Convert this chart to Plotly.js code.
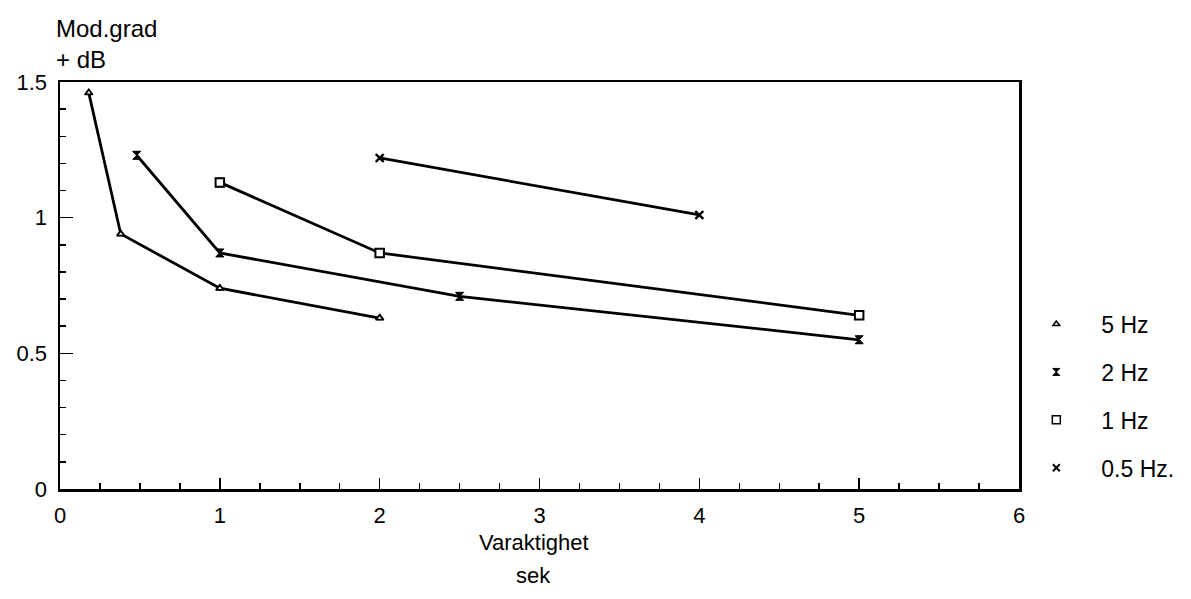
<!DOCTYPE html>
<html>
<head>
<meta charset="utf-8">
<script src="https://cdn.plot.ly/plotly-3.0.1.min.js"></script>
<style>html,body{margin:0;padding:0;background:#fff;}#chart{width:1191px;height:599px;}</style>
</head>
<body>
<div id="chart"></div>
<script>
// Data
const seriesNames = ["5 Hz", "2 Hz", "1 Hz", "0.5 Hz."];
const x5Hz = [0.18, 0.38, 1.0, 2.0];
const y5Hz = [1.46, 0.94, 0.74, 0.63];
const x2Hz = [0.48, 1.0, 2.5, 5.0];
const y2Hz = [1.23, 0.87, 0.71, 0.55];
const x1Hz = [1.0, 2.0, 5.0];
const y1Hz = [1.13, 0.87, 0.64];
const x05Hz = [2.0, 4.0];
const y05Hz = [1.22, 1.01];
const xTicks = [0, 1, 2, 3, 4, 5, 6];
const yTicks = [0, 0.5, 1, 1.5];
const yTickText = ["0", "0.5", "1", "1.5"];

const FONT = "Liberation Sans, Arial, sans-serif";
const symbols = [
  {symbol: "triangle-up", size: 7, color: "#fff", line: {color: "#000", width: 1.5}},
  {symbol: "hourglass", size: 8, color: "#000", line: {color: "#000", width: 1}},
  {symbol: "square", size: 9, color: "#fff", line: {color: "#000", width: 1.5}},
  {symbol: "x-thin", size: 8, color: "#000", line: {color: "#000", width: 2}}
];
const xs = [x5Hz, x2Hz, x1Hz, x05Hz];
const ys = [y5Hz, y2Hz, y1Hz, y05Hz];

const traces = [];
for (let i = 0; i < 4; i++) {
  traces.push({
    x: xs[i], y: ys[i], type: "scatter", mode: "lines+markers",
    line: {color: "#000", width: 2.8},
    marker: symbols[i], showlegend: false, cliponaxis: false
  });
}
for (let i = 0; i < 4; i++) {
  traces.push({
    x: xs[i], y: ys[i], type: "scatter", mode: "markers",
    name: seriesNames[i], legendgroup: "g" + i,
    marker: Object.assign({}, symbols[i], {size: symbols[i].size - 1}),
    showlegend: true, hoverinfo: "skip", cliponaxis: false
  });
}

const layout = {
  width: 1191, height: 599,
  margin: {l: 60, r: 170, t: 82, b: 110},
  paper_bgcolor: "#fff", plot_bgcolor: "#fff",
  font: {family: FONT, color: "#000", size: 20},
  xaxis: {
    range: [0, 6], tickvals: xTicks, ticktext: xTicks.map(String),
    showgrid: false, zeroline: false,
    showline: true, mirror: true, linecolor: "#000", linewidth: 2.5,
    ticks: "inside", ticklen: 11, tickwidth: 1.5, tickcolor: "#000",
    minor: {dtick: 0.25, ticks: "inside", ticklen: 6, tickwidth: 1.5, tickcolor: "#000", showgrid: false},
    tickfont: {size: 22, family: FONT}, ticklabelstandoff: 5
  },
  yaxis: {
    range: [0, 1.5], tickvals: yTicks, ticktext: yTickText,
    showgrid: false, zeroline: false,
    showline: true, mirror: true, linecolor: "#000", linewidth: 2.5,
    ticks: "inside", ticklen: 13, tickwidth: 1.5, tickcolor: "#000",
    minor: {dtick: 0.1, ticks: "inside", ticklen: 6, tickwidth: 1.5, tickcolor: "#000", showgrid: false},
    tickfont: {size: 22, family: FONT}, ticklabelstandoff: 6
  },
  legend: {
    x: 0.992, xanchor: "left", y: 0.458, yanchor: "top",
    font: {size: 23, family: FONT}, traceorder: "grouped", tracegroupgap: 15,
    bgcolor: "rgba(0,0,0,0)", borderwidth: 0, itemwidth: 80
  },
  annotations: [
    {text: "Mod.grad", xref: "paper", yref: "paper", x: -0.006, y: 1, xanchor: "left", yanchor: "middle",
     yshift: 54, align: "left", showarrow: false, font: {size: 24, family: FONT}},
    {text: "+ dB", xref: "paper", yref: "paper", x: -0.006, y: 1, xanchor: "left", yanchor: "middle",
     yshift: 23, align: "left", showarrow: false, font: {size: 24, family: FONT}},
    {text: "Varaktighet", xref: "paper", yref: "paper", x: 0.494, y: 0, xanchor: "center", yanchor: "middle",
     yshift: -53, showarrow: false, font: {size: 22, family: FONT}},
    {text: "sek", xref: "paper", yref: "paper", x: 0.494, y: 0, xanchor: "center", yanchor: "middle",
     yshift: -86, showarrow: false, font: {size: 22, family: FONT}}
  ]
};

Plotly.newPlot("chart", traces, layout, {displayModeBar: false, staticPlot: true});
</script>
</body>
</html>
